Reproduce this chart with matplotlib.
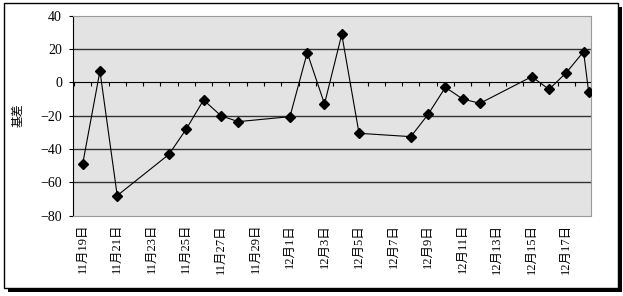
import pandas as pd
import matplotlib
matplotlib.use('Agg')
import matplotlib.pyplot as plt
from matplotlib.patches import Rectangle
from matplotlib.ticker import MultipleLocator

# basis data
dates = ['2008-11-19 00:00', '2008-11-20 00:00', '2008-11-21 00:00', '2008-11-24 00:00',
         '2008-11-25 00:00', '2008-11-26 00:00', '2008-11-27 00:00', '2008-11-28 00:00',
         '2008-12-01 00:00', '2008-12-02 00:00', '2008-12-03 00:00', '2008-12-04 00:00',
         '2008-12-05 00:00', '2008-12-08 00:00', '2008-12-09 00:00', '2008-12-10 00:00',
         '2008-12-11 00:00', '2008-12-12 00:00', '2008-12-15 00:00', '2008-12-16 00:00',
         '2008-12-17 00:00', '2008-12-18 00:00', '2008-12-18 07:00']
basis = [-49, 6.8, -68, -43.2, -28, -10.6, -20, -23.6, -20.6, 17.8,
         -13, 28.8, -30.6, -32.6, -19.2, -3, -10, -12.6, 3.4, -4.2,
         5.8, 18.4, -5.6]
y_ticks = [-80, -60, -40, -20, 0, 20, 40]
label_dates = pd.date_range('2008-11-19', '2008-12-17', freq='2D')

x = pd.to_datetime(dates, format='%Y-%m-%d %H:%M')

fig = plt.figure(figsize=(6.23, 2.96), dpi=100)

# outer frame with shadow
W, H = 623, 296
fig.patches.append(Rectangle((8 / W, 1 - 292 / H), 614 / W, 285 / H, zorder=-5,
                             transform=fig.transFigure, facecolor='black', edgecolor='none'))
fig.patches.append(Rectangle((4 / W, 1 - 288 / H), 614 / W, 285 / H, zorder=-4,
                             transform=fig.transFigure, facecolor='white', edgecolor='black', lw=1))

ax = fig.add_axes([73 / W, 1 - 215.6 / H, 518 / W, 199.9 / H])
ax.set_facecolor('#e3e3e3')

for v in [20, -20, -40, -60]:
    ax.axhline(v, color='#333333', lw=1, zorder=1)

ax.plot(x, basis, color='black', lw=0.8, marker='D', markersize=5.5,
        markerfacecolor='black', markeredgecolor='black', zorder=3)

x0 = pd.Timestamp('2008-11-19')
ax.set_xlim(x0 - pd.Timedelta(days=0.56), x0 + pd.Timedelta(days=29.43))
ax.set_ylim(-80, 40)

ax.set_yticks(y_ticks)
ax.set_yticklabels([str(v).replace('-', '\u2212') for v in y_ticks],
                   fontfamily='Liberation Serif', fontsize=10)
ax.tick_params(axis='y', length=3, width=0.8, color='black', pad=5)

ax.set_xticks(label_dates)
ax.set_xticklabels([f'{d.month}月{d.day}日' for d in label_dates], rotation=90,
                   fontfamily=['Liberation Serif', 'Noto Sans CJK SC'], fontsize=9)
ax.tick_params(axis='x', length=0, pad=6)

ax.set_ylabel('基差', fontfamily='Noto Sans CJK SC', fontsize=8.5, labelpad=11)

for s in ['top', 'right', 'bottom']:
    ax.spines[s].set_color('#9a9a9a')
ax.spines['left'].set_color('black')

# category axis line at zero with day ticks
sec = ax.secondary_xaxis(2 / 3)
sec.set_alignment('bottom')
sec.xaxis.set_major_locator(MultipleLocator(1, offset=0.5))
sec.tick_params(direction='out', length=3, width=0.8, labelbottom=False, labeltop=False)
sec.spines['bottom'].set_color('black')

fig.savefig('out.png', dpi=100)
